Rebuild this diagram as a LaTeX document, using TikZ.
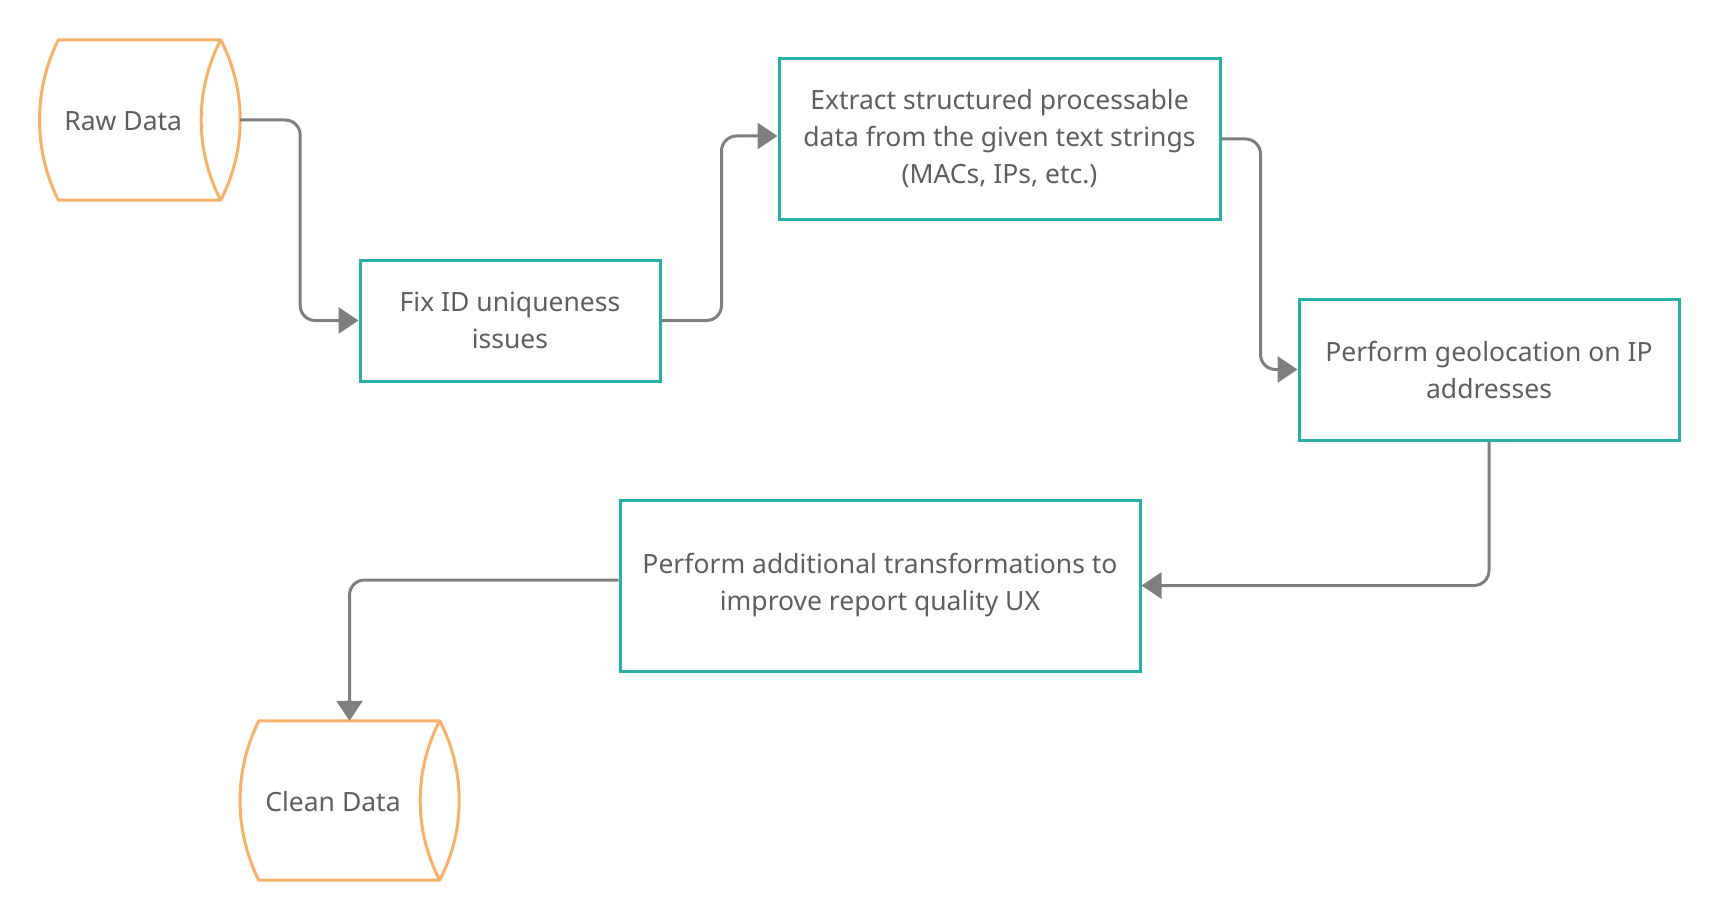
\documentclass[tikz,border=0pt]{standalone}
\usepackage{fontspec}
\setmainfont{Noto Sans}
\usetikzlibrary{arrows.meta}

\definecolor{stepteal}{HTML}{26B0A9}
\definecolor{storeorange}{HTML}{F9B165}
\definecolor{flowgray}{HTML}{7F7F7F}
\definecolor{textgray}{HTML}{5E5E5E}

\begin{document}
\begin{tikzpicture}[
		x=1pt, y=-1pt,
		stepbox/.style={rectangle, draw=stepteal, line width=3pt, align=center, text=textgray, font=\fontsize{26.5}{37}\selectfont},
		store/.style={rectangle, inner sep=0pt, align=center, text=textgray, font=\fontsize{26.5}{37}\selectfont},
		storeline/.style={draw=storeorange, line width=3pt, line join=round},
		flow/.style={-{Triangle[length=20pt, width=26pt]}, draw=flowgray, line width=3pt, rounded corners=15pt},
	]
	\useasboundingbox (0,0) rectangle (1720,920);

	% Stores
	\node[store, minimum width=161.5pt, minimum height=160pt] (raw)   at (123.25, 121) {Raw Data};
	\node[store, minimum width=180pt,   minimum height=159pt] (clean) at (333, 801.5)   {Clean Data};

	\foreach \s in {raw, clean} {
		\draw[storeline] ([xshift=16pt, yshift=1pt]\s.north west) .. controls +(-25,50) and +(-25,-50) .. ([xshift=16pt, yshift=1pt]\s.south west)
			-- ([xshift=16.5pt, yshift=1pt]\s.south east) .. controls +(26,-50) and +(26,50) .. ([xshift=16.5pt, yshift=1pt]\s.north east) -- cycle;
		\draw[storeline] ([xshift=16.5pt, yshift=1pt]\s.north east) .. controls +(-26,50) and +(-26,-50) .. ([xshift=16.5pt, yshift=1pt]\s.south east);
	}

	% Steps
	\node[stepbox, minimum width=300pt, minimum height=121pt] (fix)     at (510, 320.5)  {Fix ID uniqueness\\issues};
	\node[stepbox, minimum width=441pt, minimum height=160pt] (extract) at (999.5, 139)  {Extract structured processable\\data from the given text strings\\(MACs, IPs, etc.)};
	\node[stepbox, minimum width=380pt, minimum height=141pt] (geo)     at (1489, 369.5) {Perform geolocation on IP\\addresses};
	\node[stepbox, minimum width=520pt, minimum height=171pt] (extra)   at (880, 585.5)  {Perform additional transformations to\\improve report quality UX};

	% Flow
	\draw[flow] ([xshift=36pt, yshift=1pt]raw.east) -- ++(60,0) |- (fix.west);
	\draw[flow] (fix.east) -- ++(60,0) |- ([yshift=3pt]extract.west);
	\draw[flow] (extract.east) -- ++(39,0) |- (geo.west);
	\draw[flow] (geo.south) |- (extra.east);
	\draw[flow] ([yshift=5.5pt]extra.west) -| ([xshift=16.5pt, yshift=1pt]clean.north);

\end{tikzpicture}
\end{document}
